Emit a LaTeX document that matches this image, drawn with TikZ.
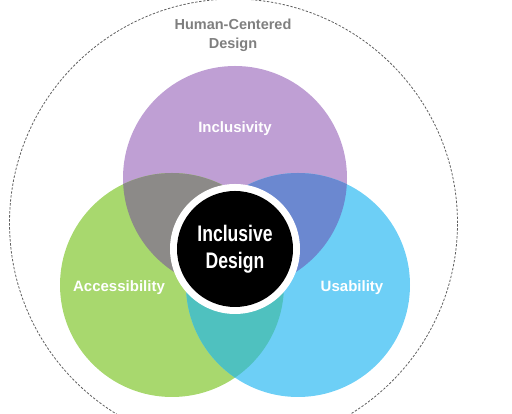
\documentclass[tikz,border=0pt]{standalone}
\usepackage{fontspec}
\setmainfont{Liberation Sans}
\newfontfamily\condfont{Liberation Sans}[FakeStretch=0.78]
\definecolor{purplec}{HTML}{BF9FD4}
\definecolor{greenc}{HTML}{A8D86E}
\definecolor{bluec}{HTML}{6DCFF6}
\definecolor{grayov}{HTML}{8C8A88}
\definecolor{blueov}{HTML}{6B88D0}
\definecolor{tealov}{HTML}{4FC1BF}
\definecolor{txtgray}{HTML}{7F7F7F}
\definecolor{dashgray}{HTML}{606060}
\tikzset{
  setcircle/.style={circle, minimum size=224pt, inner sep=0pt, fill=#1},
  label15/.style={text=white, font=\bfseries\fontsize{15}{18}\selectfont},
}
\begin{document}
\begin{tikzpicture}[x=1pt,y=1pt]
\useasboundingbox (0,0) rectangle (512,414);
% outer dashed circle
\node[circle, minimum size=448pt, inner sep=0pt, draw=dashgray, line width=0.8pt, dash pattern=on 2.4pt off 1.6pt] (hcd) at (233.5,191) {};
% sets
\node[setcircle=purplec] (incl) at (235,236) {};
\node[setcircle=greenc] (acc) at (172,129) {};
\node[setcircle=bluec] (usa) at (298,129) {};
% overlaps
\begin{scope}
  \clip (235,236) circle[radius=112pt];
  \fill[grayov] (172,129) circle[radius=112pt];
\end{scope}
\begin{scope}
  \clip (235,236) circle[radius=112pt];
  \fill[blueov] (298,129) circle[radius=112pt];
\end{scope}
\begin{scope}
  \clip (172,129) circle[radius=112pt];
  \fill[tealov] (298,129) circle[radius=112pt];
\end{scope}
% centre
\node[circle, minimum size=130pt, inner sep=0pt, fill=white] (ring) at (235,165) {};
\node[circle, minimum size=116pt, inner sep=0pt, fill=black, align=center, text=white,
  font=\condfont\bfseries\fontsize{22.5}{27}\selectfont] (core) at (235,165) {Inclusive\\Design};
% labels
\node[text=txtgray, align=center, font=\bfseries\fontsize{14.5}{19}\selectfont] (hcdlabel) at (233,378.5) {Human-Centered\\Design};
\node[label15] (incllabel) at (235,285) {Inclusivity};
\node[label15] (acclabel) at (119,126) {Accessibility};
\node[label15] (usalabel) at (352,126) {Usability};
\end{tikzpicture}
\end{document}
